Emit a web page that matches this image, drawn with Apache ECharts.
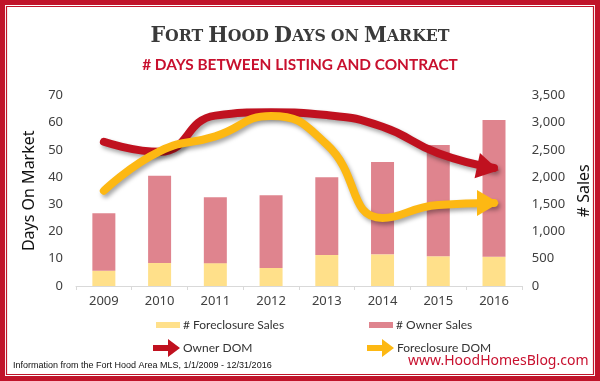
<!DOCTYPE html>
<html>
<head>
<meta charset="utf-8">
<script src="https://cdn.jsdelivr.net/npm/echarts@6/dist/echarts.min.js"></script>
<style>
html,body{margin:0;padding:0;background:#fff;}
#c{width:600px;height:381px;}
</style>
</head>
<body>
<div id="c"></div>
<script>
const years = ['2009', '2010', '2011', '2012', '2013', '2014', '2015', '2016'];
const foreclosureSales = [281, 422, 420, 331, 569, 582, 546, 538];
const ownerSales = [1054, 1604, 1209, 1335, 1428, 1696, 2044, 2511];
const ownerDOM = [53, 49.3, 62.6, 63.8, 62.8, 58.5, 48.8, 43.4];
const foreclosureDOM = [35, 49.5, 55, 62.5, 52, 25, 29.8, 30.5];

const RED = '#C0111F';
const GOLD = '#FDB813';
const PINK = '#DF848E';
const YELLOW = '#FFE08A';
const FONT = '"Noto Sans", Lato, sans-serif';
const LEGFONT = 'Lato, "Noto Sans", sans-serif';
const arrowHead = 'path://M0,0 L22,12 L0,24 Z';
const legendArrow = 'path://M0,7 L15,7 L15,1 L27,10 L15,19 L15,13 L0,13 Z';

function withArrow(arr, rot) {
  return arr.map((v, i) => i === arr.length - 1
    ? { value: v, symbol: arrowHead, symbolSize: [22, 26], symbolRotate: rot, symbolOffset: [-6, 0] }
    : { value: v, symbol: 'none' });
}

const chart = echarts.init(document.getElementById('c'), null, { renderer: 'canvas' });
chart.setOption({
  animation: false,
  backgroundColor: '#fff',
  title: [
    {
      left: 'center', top: 20,
      text: '{b|F}{s|ORT} {b|H}{s|OOD} {b|D}{s|AYS} {s|ON} {b|M}{s|ARKET}',
      textStyle: {
        rich: {
          b: { fontFamily: '"DejaVu Serif Condensed", "DejaVu Serif", serif', fontWeight: 'bold', fontSize: 23, color: '#3a3a3a' },
          s: { fontFamily: '"DejaVu Serif Condensed", "DejaVu Serif", serif', fontWeight: 'bold', fontSize: 17.5, color: '#3a3a3a' }
        }
      }
    },
    {
      left: 'center', top: 53,
      text: '# DAYS BETWEEN LISTING AND CONTRACT',
      textStyle: { fontFamily: 'Lato, "Open Sans", sans-serif', fontWeight: 'bold', fontSize: 15.4, color: '#C8102E' }
    }
  ],
  grid: { left: 76, right: 77, top: 95.5, bottom: 95, containLabel: false },
  legend: [
    { data: ['# Foreclosure Sales'], left: 151, top: 314, icon: 'rect', itemWidth: 24, itemHeight: 6, itemGap: 0,
      textStyle: { fontFamily: LEGFONT, fontSize: 12, color: '#333', padding: [0, 0, 0, -2] } },
    { data: ['# Owner Sales'], left: 364, top: 314, icon: 'rect', itemWidth: 24, itemHeight: 6, itemGap: 0,
      textStyle: { fontFamily: LEGFONT, fontSize: 12, color: '#333', padding: [0, 0, 0, -2] } },
    { data: [{ name: 'Owner DOM', icon: legendArrow }], left: 148, top: 334, itemWidth: 27, itemHeight: 18, itemGap: 0,
      textStyle: { fontFamily: LEGFONT, fontSize: 12, color: '#333', padding: [0, 0, 0, -2] } },
    { data: [{ name: 'Foreclosure DOM', icon: legendArrow }], left: 362, top: 334, itemWidth: 27, itemHeight: 18, itemGap: 0,
      textStyle: { fontFamily: LEGFONT, fontSize: 12, color: '#333', padding: [0, 0, 0, -2] } }
  ],
  xAxis: {
    type: 'category', data: years, boundaryGap: true,
    axisLine: { show: true, lineStyle: { color: '#d9d9d9', width: 1 } },
    axisTick: { show: true, length: 4, lineStyle: { color: '#d9d9d9' } },
    axisLabel: { fontFamily: FONT, fontSize: 13, color: '#404040', margin: 9 }
  },
  yAxis: [
    { type: 'value', min: 0, max: 70, interval: 10,
      name: 'Days On Market', nameLocation: 'middle', nameGap: 29, nameRotate: 90,
      nameTextStyle: { fontFamily: FONT, fontSize: 16, color: '#111' },
      axisLine: { show: false }, axisTick: { show: false }, splitLine: { show: false },
      axisLabel: { fontFamily: FONT, fontSize: 13, color: '#404040', margin: 13 } },
    { type: 'value', min: 0, max: 3500, interval: 500,
      name: '# Sales', nameLocation: 'middle', nameGap: 47, nameRotate: 90,
      nameTextStyle: { fontFamily: FONT, fontSize: 16, color: '#111' },
      axisLine: { show: false }, axisTick: { show: false }, splitLine: { show: false },
      axisLabel: { fontFamily: FONT, fontSize: 13, color: '#404040', margin: 10,
        formatter: v => v.toLocaleString('en-US') } }
  ],
  series: [
    { name: '# Foreclosure Sales', type: 'bar', stack: 's', yAxisIndex: 1, barWidth: 23,
      data: foreclosureSales, itemStyle: { color: YELLOW } },
    { name: '# Owner Sales', type: 'bar', stack: 's', yAxisIndex: 1, barWidth: 23,
      data: ownerSales, itemStyle: { color: PINK } },
    { name: 'Owner DOM', type: 'line', yAxisIndex: 0, smooth: 0.5, showSymbol: true,
      data: withArrow(ownerDOM, -12), color: RED, itemStyle: { color: RED },
      lineStyle: { color: RED, width: 8, cap: 'round', shadowColor: 'rgba(0,0,0,0.35)', shadowBlur: 4, shadowOffsetX: 2, shadowOffsetY: 3 } },
    { name: 'Foreclosure DOM', type: 'line', yAxisIndex: 0, smooth: 0.5, showSymbol: true,
      data: withArrow(foreclosureDOM, 0), color: GOLD, itemStyle: { color: GOLD },
      lineStyle: { color: GOLD, width: 8, cap: 'round', shadowColor: 'rgba(0,0,0,0.35)', shadowBlur: 4, shadowOffsetX: 2, shadowOffsetY: 3 } }
  ],
  graphic: [
    { type: 'rect', shape: { x: 2.5, y: 2.5, width: 595, height: 376 }, style: { fill: 'none', stroke: '#C0142A', lineWidth: 5 }, silent: true },
    { type: 'rect', shape: { x: 6.5, y: 6.5, width: 587, height: 368 }, style: { fill: 'none', stroke: '#C0142A', lineWidth: 1.2 }, silent: true },
    { type: 'text', left: 13, top: 361, style: { text: 'Information from the Fort Hood Area MLS, 1/1/2009 - 12/31/2016', font: '9px "Liberation Sans", sans-serif', fill: '#111' } },
    { type: 'text', left: 408, top: 354, style: { text: 'www.HoodHomesBlog.com', font: '14px "Noto Sans", sans-serif', fill: '#C8102E' } }
  ]
});
</script>
</body>
</html>
